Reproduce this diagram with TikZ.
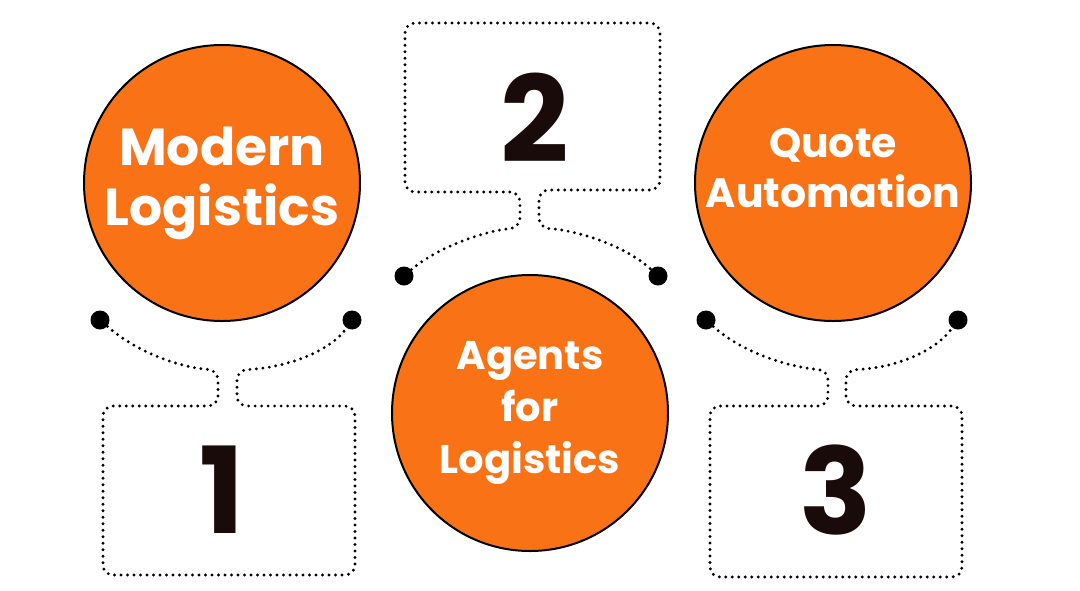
\documentclass[tikz,border=0pt]{standalone}
\usepackage{fontspec}
\setmainfont{Poppins}
\definecolor{org}{HTML}{F97316}
\definecolor{num}{HTML}{1A0B0B}
\begin{document}
\begin{tikzpicture}[x=1pt,y=-1pt,
  big/.style={circle,draw=black,line width=2pt,fill=org,minimum size=276pt,inner sep=0pt,text=white,align=center,font=\fontsize{40}{52}\selectfont\bfseries},
  dot/.style={circle,fill=black,minimum size=19pt,inner sep=0pt},
  dl/.style={line width=3.2pt,line cap=round,dash pattern=on 0pt off 6.5pt,rounded corners=10pt},
  nm/.style={text=num,font=\fontsize{120}{120}\selectfont\bfseries}]
\useasboundingbox (0,0) rectangle (1080,590);
% group 1
\node[dot] (d1a) at (100,320) {};
\node[dot] (d1b) at (352,320) {};
\node[big,font=\fontsize{52}{60}\selectfont\bfseries] (c1) at (222,183) {Modern\\Logistics};
\draw[dl] (d1a) .. controls (140,355) and (185,368) .. (218,370) -- (218,406) -- (103,406) -- (103,575) -- (355,575) -- (355,406) -- (237,406) -- (237,370) .. controls (285,368) and (330,352) .. (d1b);
\node[nm] (n1) at (222,490) {1};
% group 2
\node[big] (c2) at (530,413) {Agents\\for\\Logistics};
\node[dot] (d2a) at (404,276) {};
\node[dot] (d2b) at (658,276) {};
\draw[dl] (d2a) .. controls (440,245) and (490,230) .. (520,228) -- (520,192) -- (405,192) -- (405,23) -- (660,23) -- (660,190) -- (539,190) -- (539,228) .. controls (575,230) and (625,245) .. (d2b);
\node[nm] (n2) at (535,118) {2};
% group 3
\node[big] (c3) at (833,183) {};
\node[text=white,align=center,font=\fontsize{41}{50}\selectfont\bfseries] (t3) at (833,168) {Quote\\Automation};
\node[dot] (d3a) at (706,320) {};
\node[dot] (d3b) at (958,320) {};
\draw[dl] (d3a) .. controls (745,355) and (795,368) .. (828,370) -- (828,406) -- (710,406) -- (710,577) -- (962,577) -- (962,406) -- (846,406) -- (846,370) .. controls (895,368) and (935,352) .. (d3b);
\node[nm] (n3) at (836,490) {3};
\end{tikzpicture}
\end{document}
